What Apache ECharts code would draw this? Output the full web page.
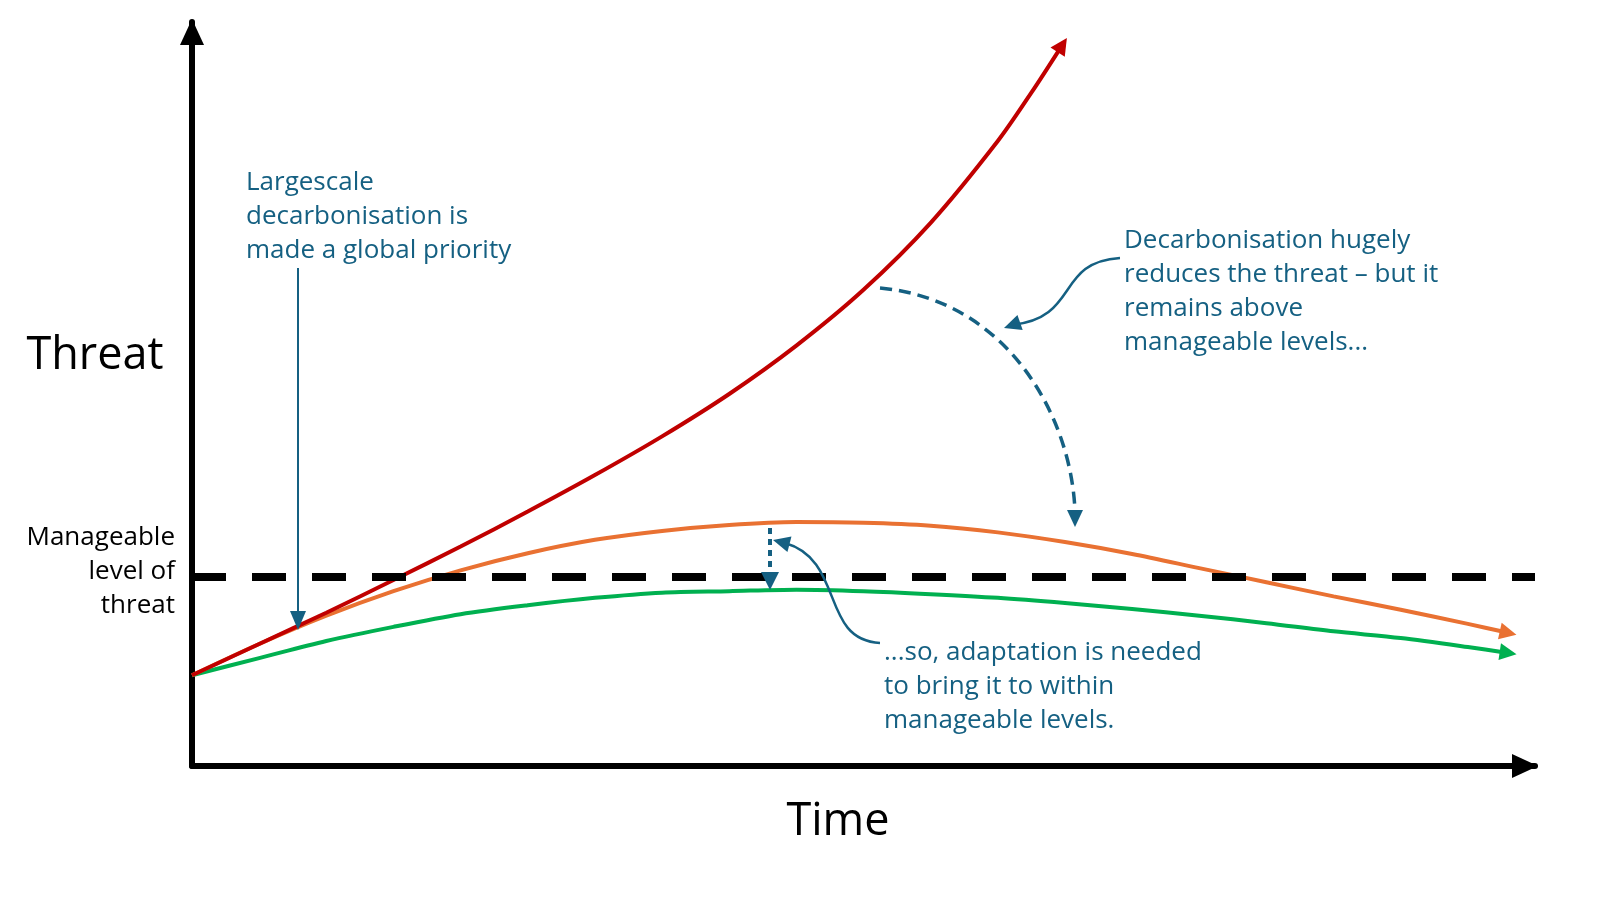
<!DOCTYPE html>
<html>
<head>
<meta charset="utf-8">
<script src="https://cdn.jsdelivr.net/npm/echarts@6/dist/echarts.min.js"></script>
<style>
  html, body { margin: 0; padding: 0; background: #fff; }
  #main { width: 1600px; height: 900px; }
</style>
</head>
<body>
<div id="main"></div>
<script>
// concept chart: threat over time, 0-100 on both axes
var timeRed = [0, 5, 10, 15, 20, 25, 30, 35, 40, 45, 50, 55, 60, 62.5, 64.8];
var threatRed = [12.2, 16.4, 20.6, 25.0, 29.5, 34.2, 39.1, 44.3, 50.0, 56.5, 64.0, 73.0, 84.0, 90.5, 96.9];

var timeOrange = [0, 5, 10, 15, 20, 25, 30, 35, 40, 45, 50, 55, 60, 65, 70, 75, 80, 85, 90, 95, 98];
var threatOrange = [12.2, 16.4, 20.2, 23.5, 26.3, 28.6, 30.4, 31.6, 32.4, 32.8, 32.7, 32.3, 31.4, 30.1, 28.5, 26.6, 24.7, 22.8, 21.0, 19.1, 17.9];

var timeGreen = [0, 5, 10, 15, 20, 25, 30, 35, 40, 45, 50, 55, 60, 65, 70, 75, 80, 85, 90, 95, 98];
var threatGreen = [12.2, 14.5, 16.8, 18.7, 20.4, 21.6, 22.6, 23.3, 23.5, 23.7, 23.5, 23.1, 22.6, 21.9, 21.1, 20.2, 19.2, 18.1, 17.2, 16.0, 15.2];

var manageableLevel = 25.4;

var TEAL = '#156082';
var FONT = '"Open Sans", "Noto Sans", sans-serif';

function pairs(xs, ys) {
  return xs.map(function (x, i) { return [x, ys[i]]; });
}

// tiny last segment so the lines series puts an arrow head on the curve end
function endArrow(xs, ys, color) {
  var n = xs.length;
  var x1 = xs[n - 1], y1 = ys[n - 1];
  var x0 = x1 - (x1 - xs[n - 2]) * 0.05;
  var y0 = y1 - (y1 - ys[n - 2]) * 0.05;
  return {
    type: 'lines',
    coordinateSystem: 'cartesian2d',
    symbol: ['none', 'triangle'],
    symbolSize: [15, 17],
    lineStyle: { color: color, width: 4, opacity: 1 },
    data: [{ coords: [[x0, y0], [x1, y1]] }],
    z: 3
  };
}

function curveSeries(xs, ys, color) {
  return {
    type: 'line',
    data: pairs(xs, ys),
    smooth: 0.3,
    showSymbol: false,
    lineStyle: { color: color, width: 4 },
    z: 3
  };
}

// arrow head polygon with tip at 'tip', pointing away from 'from'
function head(tip, from, len, half, color) {
  var dx = tip[0] - from[0], dy = tip[1] - from[1];
  var d = Math.sqrt(dx * dx + dy * dy);
  var ux = dx / d, uy = dy / d;
  var bx = tip[0] - ux * len, by = tip[1] - uy * len;
  return {
    type: 'polygon',
    shape: { points: [tip, [bx - uy * half, by + ux * half], [bx + uy * half, by - ux * half]] },
    style: { fill: color },
    z: 10
  };
}

function curve(p0, c1, c2, p3, width, dash) {
  return {
    type: 'bezierCurve',
    shape: { x1: p0[0], y1: p0[1], cpx1: c1[0], cpy1: c1[1], cpx2: c2[0], cpy2: c2[1], x2: p3[0], y2: p3[1] },
    style: { stroke: TEAL, lineWidth: width, fill: null, lineDash: dash || null },
    z: 10
  };
}

function label(text, x, y, opts) {
  return {
    type: 'text',
    x: x,
    y: y,
    style: Object.assign({
      text: text,
      font: '26px ' + FONT,
      fill: TEAL,
      lineHeight: 34,
      textAlign: 'left',
      textVerticalAlign: 'top'
    }, opts || {}),
    z: 10
  };
}

var axisLine = {
  show: true,
  symbol: ['none', 'triangle'],
  symbolSize: [24, 26],
  symbolOffset: [0, -10],
  lineStyle: { color: '#000', width: 6 }
};

var chart = echarts.init(document.getElementById('main'));

var option = {
  animation: false,
  backgroundColor: '#fff',
  grid: { left: 192, right: 65, top: 22, bottom: 134, containLabel: false },
  xAxis: {
    type: 'value', min: 0, max: 100,
    axisLine: axisLine,
    axisTick: { show: false }, axisLabel: { show: false }, splitLine: { show: false }
  },
  yAxis: {
    type: 'value', min: 0, max: 100,
    axisLine: axisLine,
    axisTick: { show: false }, axisLabel: { show: false }, splitLine: { show: false }
  },
  series: [
    {
      type: 'line',
      data: [],
      markLine: {
        silent: true,
        symbol: ['none', 'none'],
        label: { show: false },
        lineStyle: { color: '#000', width: 8, type: [34, 26] },
        data: [{ yAxis: manageableLevel }]
      },
      z: 2
    },
    curveSeries(timeGreen, threatGreen, '#00B050'),
    endArrow(timeGreen, threatGreen, '#00B050'),
    curveSeries(timeOrange, threatOrange, '#E97132'),
    endArrow(timeOrange, threatOrange, '#E97132'),
    curveSeries(timeRed, threatRed, '#C00000'),
    endArrow(timeRed, threatRed, '#C00000')
  ],
  graphic: [
    label('Threat', 95, 356, { font: '45px ' + FONT, fill: '#000', textAlign: 'center', textVerticalAlign: 'middle' }),
    label('Time', 838, 822, { font: '45px ' + FONT, fill: '#000', textAlign: 'center', textVerticalAlign: 'middle' }),
    label('Manageable\nlevel of\nthreat', 175, 521, { fill: '#000', textAlign: 'right', lineHeight: 34 }),

    label('Largescale\ndecarbonisation is\nmade a global priority', 246, 166),
    { type: 'line', shape: { x1: 298, y1: 268, x2: 298, y2: 615 }, style: { stroke: TEAL, lineWidth: 2 }, z: 10 },
    head([298, 630], [298, 600], 19, 8, TEAL),

    label('Decarbonisation hugely\nreduces the threat \u2013 but it\nremains above\nmanageable levels...', 1124, 224),
    curve([1120, 258], [1055, 262], [1080, 318], [1012, 325], 2.5),
    head([1004, 328], [1030, 319], 17, 8, TEAL),
    curve([880, 288], [1010, 300], [1072, 420], [1075, 512], 3.5, [12, 7]),
    head([1075, 527], [1075, 500], 17, 8, TEAL),

    label('...so, adaptation is needed\nto bring it to within\nmanageable levels.', 884, 636),
    curve([880, 643], [820, 640], [845, 560], [785, 543], 2.5),
    head([773, 540], [800, 547], 17, 8, TEAL),
    { type: 'line', shape: { x1: 770, y1: 528, x2: 770, y2: 575 }, style: { stroke: TEAL, lineWidth: 4, lineDash: [6, 5] }, z: 10 },
    head([770, 590], [770, 560], 18, 9, TEAL)
  ]
};

chart.setOption(option);
</script>
</body>
</html>
